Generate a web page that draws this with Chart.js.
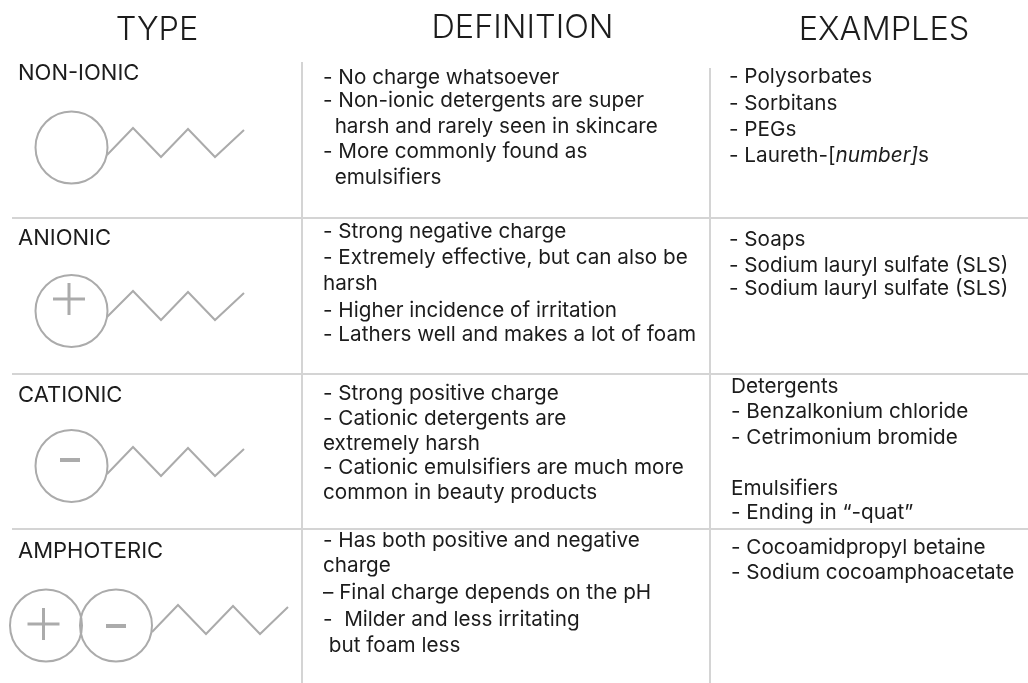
<!DOCTYPE html>
<html>
<head>
<meta charset="utf-8">
<title>Surfactant types</title>
<script src="https://cdn.jsdelivr.net/npm/chart.js@4"></script>
<style>
  html, body { margin: 0; padding: 0; background: #fff; }
  canvas { display: block; filter: blur(0.4px); }
</style>
</head>
<body>
<canvas id="chart" width="1028" height="683"></canvas>
<script>
/* =========================
   TEXT
========================= */
const headers = ["TYPE", "DEFINITION", "EXAMPLES"];
const headerX = [157, 522.5, 884];
const headerY = [40, 38, 40];

const typeLabels = ["NON-IONIC", "ANIONIC", "CATIONIC", "AMPHOTERIC"];
const typeLabelY = [80, 245, 402, 558];

const definitionLines = [
  "- No charge whatsoever",
  "- Non-ionic detergents are super",
  "  harsh and rarely seen in skincare",
  "- More commonly found as",
  "  emulsifiers",
  "- Strong negative charge",
  "- Extremely effective, but can also be",
  "harsh",
  "- Higher incidence of irritation",
  "- Lathers well and makes a lot of foam",
  "- Strong positive charge",
  "- Cationic detergents are",
  "extremely harsh",
  "- Cationic emulsifiers are much more",
  "common in beauty products",
  "- Has both positive and negative",
  "charge",
  "– Final charge depends on the pH",
  "-  Milder and less irritating",
  " but foam less",
];
const definitionX = [323, 323, 323, 323, 323, 323, 323, 323, 323, 323, 323, 323, 323, 323, 323, 323, 323, 323, 323, 323];
const definitionY = [84, 107, 133, 158, 184, 238, 264, 290, 317, 341, 400, 425, 450, 474, 499, 547, 572, 599, 626, 652];

const exampleLines = [
  "- Polysorbates",
  "- Sorbitans",
  "- PEGs",
  "- Laureth-[*number]*s",
  "- Soaps",
  "- Sodium lauryl sulfate (SLS)",
  "- Sodium lauryl sulfate (SLS)",
  "Detergents",
  "- Benzalkonium chloride",
  "- Cetrimonium bromide",
  "Emulsifiers",
  "- Ending in “-quat”",
  "- Cocoamidpropyl betaine",
  "- Sodium cocoamphoacetate",
];
const exampleX = [729, 729, 729, 729, 729, 729, 729, 731, 731, 731, 731, 731, 731, 731];
const exampleY = [83, 110, 136, 162, 246, 272, 295, 393, 418, 444, 495, 519, 554, 579];

/* =========================
   RULES & MOLECULES
========================= */
const ruleRows = [218, 374, 529];
const ruleRowStart = 12;
const ruleColumns = [302, 710];
const ruleColumnTop = [62, 68];
const pageBottom = 683;

const headX = [71.5, 71.5, 71.5, 46, 116];
const headY = [147.5, 311, 466, 625.5, 625.5];

const tailX = [107, 133, 161, 188, 215, 244];
const tailX2 = [152, 178, 206, 233, 260, 288];
const tailY = [
  [155, 128, 157, 129, 157, 130],
  [317, 291, 320, 292, 320, 293],
  [474, 447, 476, 448, 476, 449],
  [632, 605, 634, 606, 634, 607],
];

const plusX = [69, 43.5];
const plusY = [299, 624];
const plusArm = 16;
const minusX = [70, 116];
const minusY = [460, 626];
const minusArm = 10;

const lineGrey = "#d4d4d4";
const shapeGrey = "#ababab";
const inkColor = "#1c1c1c";
const bodyFont = "Inter";

function segment(x0, y0, x1, y1, color, width) {
  return {
    data: [{ x: x0, y: y0 }, { x: x1, y: y1 }],
    showLine: true,
    borderColor: color,
    borderWidth: width,
    pointRadius: 0,
  };
}

function buildDatasets() {
  const sets = [];

  ruleRows.forEach((y) => sets.push(segment(ruleRowStart, y, 1028, y, lineGrey, 2)));
  ruleColumns.forEach((x, i) =>
    sets.push(segment(x, ruleColumnTop[i], x, pageBottom, lineGrey, 2))
  );

  tailY.forEach((ys, i) => {
    const xs = i === 3 ? tailX2 : tailX;
    sets.push({
      data: xs.map((x, j) => ({ x, y: ys[j] })),
      showLine: true,
      borderColor: shapeGrey,
      borderWidth: 2,
      pointRadius: 0,
    });
  });

  sets.push({
    data: headX.map((x, i) => ({ x, y: headY[i] })),
    pointRadius: 36,
    pointBorderWidth: 2,
    pointBorderColor: shapeGrey,
    pointBackgroundColor: "transparent",
  });

  plusX.forEach((x, i) => {
    sets.push(segment(x - plusArm, plusY[i], x + plusArm, plusY[i], shapeGrey, 3));
    sets.push(segment(x, plusY[i] - plusArm, x, plusY[i] + plusArm, shapeGrey, 3));
  });
  minusX.forEach((x, i) =>
    sets.push(segment(x - minusArm, minusY[i], x + minusArm, minusY[i], shapeGrey, 4))
  );

  return sets;
}

/* =========================
   TEXT PLUGIN
========================= */
function drawRuns(ctx, text, x, y, size) {
  text.split("*").forEach((run, i) => {
    ctx.font = (i % 2 ? "italic " : "") + "400 " + size + "px " + bodyFont;
    ctx.fillText(run, x, y);
    x += ctx.measureText(run).width;
  });
}

const tableText = {
  id: "tableText",
  afterDraw(chart) {
    const { ctx, scales } = chart;
    const px = (v) => scales.x.getPixelForValue(v);
    const py = (v) => scales.y.getPixelForValue(v);

    ctx.save();
    ctx.fillStyle = inkColor;
    ctx.textBaseline = "alphabetic";

    ctx.textAlign = "center";
    ctx.font = "300 32.5px " + bodyFont;
    headers.forEach((t, i) => ctx.fillText(t, px(headerX[i]), py(headerY[i])));

    ctx.textAlign = "left";
    ctx.font = "400 22px " + bodyFont;
    typeLabels.forEach((t, i) => ctx.fillText(t, px(18), py(typeLabelY[i])));

    definitionLines.forEach((t, i) => drawRuns(ctx, t, px(definitionX[i]), py(definitionY[i]), 20.7));
    exampleLines.forEach((t, i) => drawRuns(ctx, t, px(exampleX[i]), py(exampleY[i]), 20.7));

    ctx.restore();
  },
};

/* =========================
   CHART
========================= */
new Chart(document.getElementById("chart"), {
  type: "scatter",
  data: { datasets: buildDatasets() },
  plugins: [tableText],
  options: {
    responsive: false,
    animation: false,
    events: [],
    layout: { padding: 0, autoPadding: false },
    plugins: { legend: { display: false }, tooltip: { enabled: false } },
    scales: {
      x: { type: "linear", min: 0, max: 1028, display: false },
      y: { type: "linear", min: 0, max: 683, reverse: true, display: false },
    },
  },
});
</script>
</body>
</html>
